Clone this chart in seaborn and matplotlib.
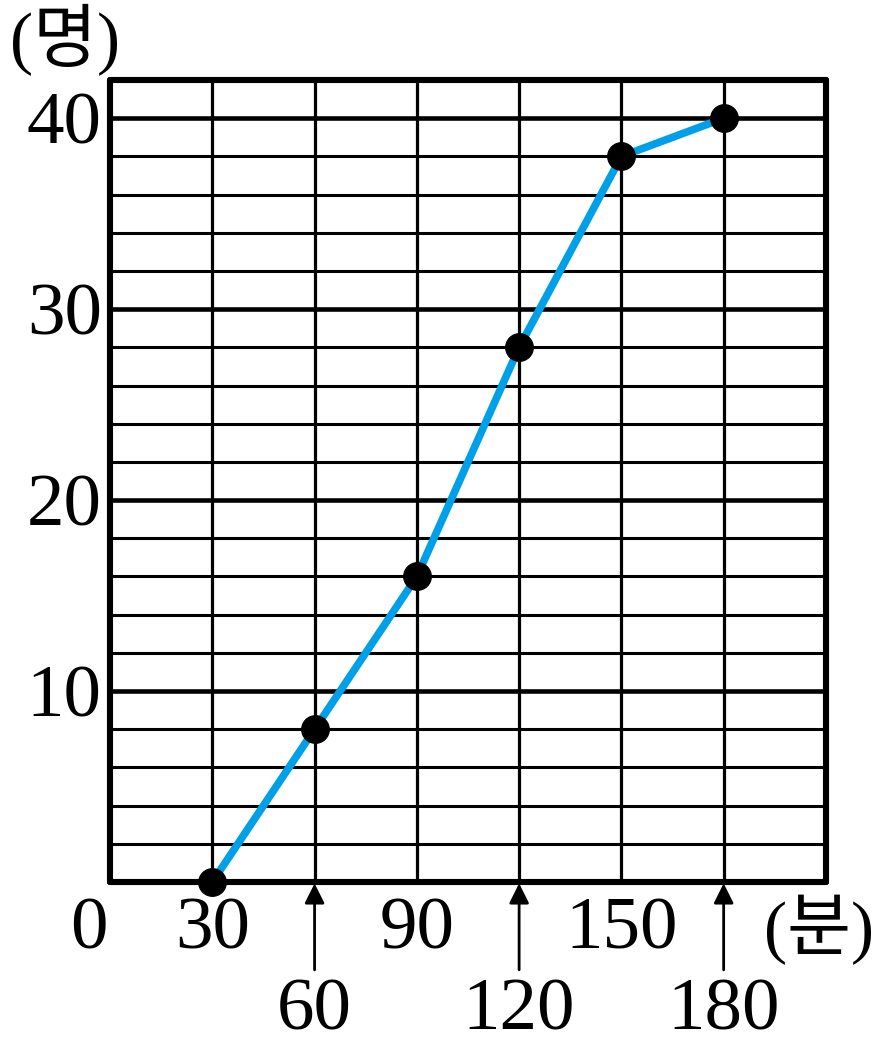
import pandas as pd
import matplotlib
matplotlib.use('Agg')
from matplotlib import pyplot as plt
import seaborn as sns

# data: cumulative count (명) by time (분)
minutes = [30, 60, 90, 120, 150, 180]
people = [0, 8, 16, 28, 38, 40]
y_ticks = [10, 20, 30, 40]
upper_labels = [30, 90, 150]
lower_labels = [60, 120, 180]

df = pd.DataFrame({'minutes': minutes, 'people': people})

sns.set_style('white')
plt.rcParams['font.family'] = ['Liberation Serif', 'Noto Sans CJK KR']
plt.rcParams['text.color'] = 'black'
plt.rcParams['ytick.color'] = 'black'

fig = plt.figure(figsize=(8.74, 10.53), dpi=100)
ax = fig.add_axes([0.1259, 0.1624, 0.8191, 0.7616])

ax.set_xlim(0, 210)
ax.set_ylim(0, 42)

# grid
for y in range(2, 42, 2):
    ax.axhline(y, color='black', lw=3.3 if y % 10 == 0 else 2.2, zorder=1)
for x in range(30, 210, 30):
    ax.axvline(x, color='black', lw=2.3, zorder=1)

for s in ax.spines.values():
    s.set_visible(True)
    s.set_color('black')
    s.set_linewidth(4.4)
    s.set_capstyle('round')

sns.lineplot(data=df, x='minutes', y='people', ax=ax, color='#00a0e9', lw=5.5,
             marker='o', markersize=20, markerfacecolor='black',
             markeredgecolor='black', clip_on=False, zorder=5)

fs = 54
ax.set_xlabel('')
ax.set_ylabel('')
ax.set_xticks([])
ax.set_yticks(y_ticks)
ax.set_yticklabels([str(v) for v in y_ticks], fontsize=fs, color='black')
ax.tick_params(axis='y', length=0, pad=6)

ax.text(-6.2, -3.46, '0', fontsize=fs, ha='center', va='baseline', clip_on=False)
for v in upper_labels:
    ax.text(v, -3.46, str(v), fontsize=fs, ha='center', va='baseline', clip_on=False)
for v in lower_labels:
    ax.text(v, -7.75, str(v), fontsize=fs, ha='center', va='baseline', clip_on=False)
    ax.annotate('', xy=(v, 0), xytext=(v, -4.6), annotation_clip=False,
                arrowprops=dict(arrowstyle='-|>', color='black', lw=2,
                                mutation_scale=30, shrinkA=0, shrinkB=1))

ax.text(208, -2.5, '(분)', fontsize=50, ha='center', va='center', clip_on=False)
ax.text(-13.2, 44.1, '(명)', fontsize=50, ha='center', va='center', clip_on=False)

fig.savefig('out.png', dpi=100)
